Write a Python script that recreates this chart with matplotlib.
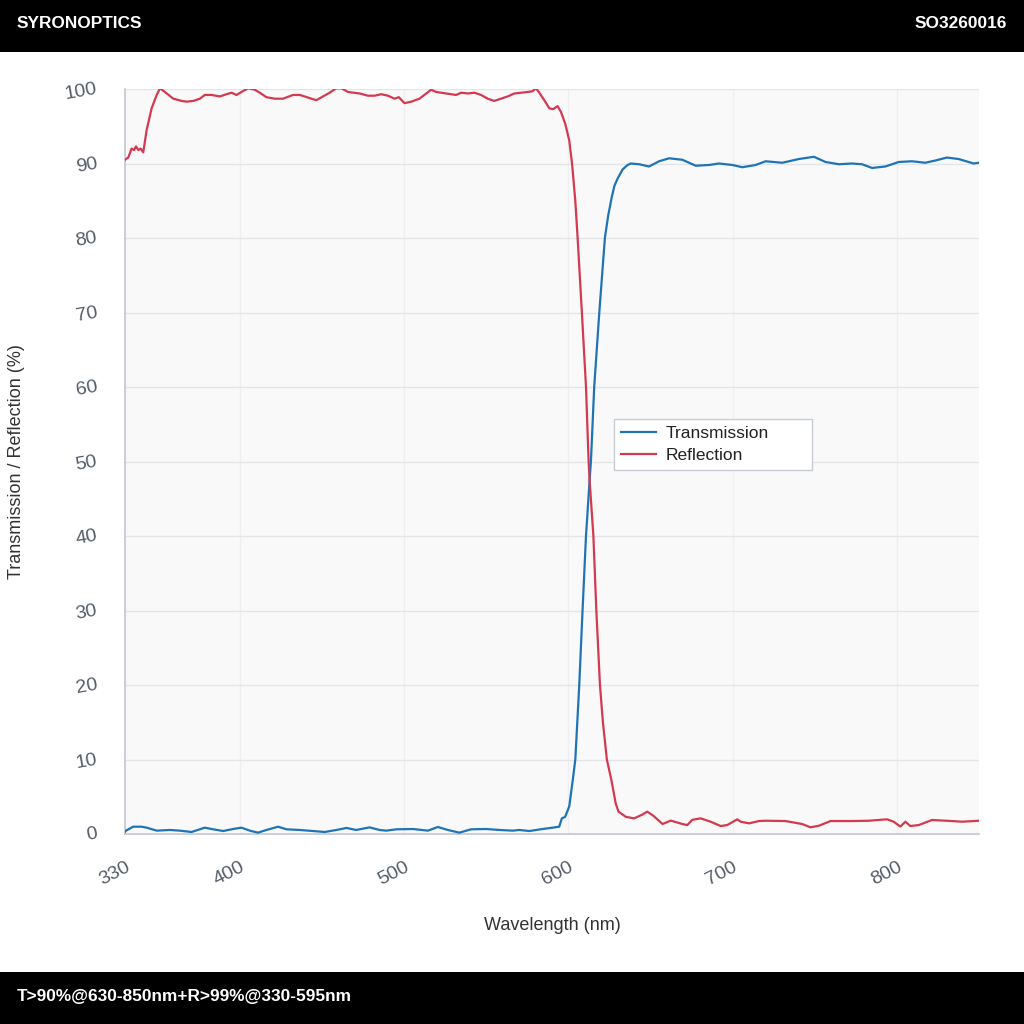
import matplotlib
matplotlib.use("Agg")
import matplotlib.pyplot as plt

# Transmission curve (nm, %)
wl_t = [330.0, 330.6, 335.0, 340.0, 343.2, 349.3, 357.4, 363.4, 370.5, 378.6,
        383.7, 389.8, 395.8, 400.9, 406.0, 411.0, 416.1, 423.2, 428.3, 436.4,
        444.5, 451.6, 458.7, 464.8, 470.8, 478.9, 485.0, 489.1, 495.2, 505.3,
        514.4, 520.5, 526.6, 533.6, 540.7, 549.9, 558.0, 566.1, 570.1, 576.2,
        584.3, 590.4, 594.4, 596.0, 598.0, 600.5, 602.5, 604.2, 606.6, 608.6,
        610.7, 612.9, 613.7, 615.7, 618.8, 622.2, 624.2, 626.4, 628.0, 630.0,
        633.0, 636.0, 638.0, 643.1, 649.1, 655.2, 661.3, 669.4, 677.5, 685.6,
        691.7, 699.8, 705.9, 714.0, 720.1, 730.2, 740.3, 749.5, 756.6, 764.7,
        772.7, 778.8, 784.9, 793.0, 801.1, 809.2, 817.3, 823.4, 830.5, 837.6,
        843.7, 846.7, 850.0]
trans = [0.30, 0.45, 0.98, 0.98, 0.85, 0.45, 0.54, 0.45, 0.27, 0.85,
         0.63, 0.40, 0.67, 0.85, 0.45, 0.18, 0.54, 0.98, 0.63, 0.54,
         0.40, 0.27, 0.54, 0.81, 0.54, 0.89, 0.54, 0.45, 0.63, 0.67,
         0.45, 0.94, 0.54, 0.18, 0.63, 0.67, 0.54, 0.45, 0.54, 0.40,
         0.67, 0.85, 0.98, 2.1, 2.3, 3.7, 7.0, 10.0, 20.0, 30.0,
         40.0, 47.5, 50.0, 60.0, 70.0, 80.0, 83.0, 85.5, 87.0, 88.0,
         89.2, 89.8, 90.0, 89.9, 89.6, 90.3, 90.7, 90.5, 89.7, 89.8,
         90.0, 89.8, 89.5, 89.8, 90.3, 90.1, 90.6, 90.9, 90.2, 89.9,
         90.0, 89.9, 89.4, 89.6, 90.2, 90.3, 90.1, 90.4, 90.8, 90.6,
         90.2, 90.0, 90.1]

# Reflection curve (nm, %)
wl_r = [330.0, 330.6, 332.0, 334.0, 335.5, 336.7, 338.1, 339.5, 341.1, 343.2,
        346.2, 349.3, 351.3, 354.3, 359.4, 364.5, 367.5, 371.6, 375.6, 378.6,
        382.7, 387.8, 391.8, 394.9, 397.9, 400.9, 405.0, 409.0, 412.1, 416.1,
        421.2, 426.2, 432.3, 436.4, 439.4, 443.5, 446.5, 450.6, 454.6, 458.7,
        461.7, 465.8, 472.9, 477.9, 482.0, 486.0, 490.1, 494.1, 496.7, 500.2,
        504.3, 509.3, 513.4, 516.4, 519.5, 525.5, 531.6, 534.7, 538.7, 542.8,
        546.8, 550.9, 554.9, 559.0, 563.0, 567.1, 571.2, 575.2, 578.2, 580.3,
        582.3, 585.3, 588.4, 590.8, 593.4, 595.5, 598.1, 600.5, 602.2, 604.2,
        605.6, 608.2, 610.7, 612.3, 612.9, 615.2, 617.0, 619.2, 621.0, 623.4,
        626.2, 628.8, 630.5, 635.0, 640.0, 645.0, 648.0, 652.0, 657.3, 662.3,
        669.4, 672.4, 675.4, 680.5, 686.6, 692.7, 696.7, 702.8, 704.9, 710.0,
        716.0, 720.0, 732.2, 742.3, 747.4, 752.4, 759.6, 772.7, 782.9, 794.0,
        798.0, 802.1, 805.2, 808.2, 813.3, 821.4, 833.5, 839.6, 850.0]
refl = [90.5, 90.6, 90.8, 92.0, 91.8, 92.3, 91.8, 92.0, 91.5, 94.5,
        97.4, 99.2, 100.1, 99.6, 98.7, 98.4, 98.3, 98.4, 98.7, 99.2,
        99.2, 99.0, 99.3, 99.5, 99.2, 99.6, 100.1, 99.9, 99.5, 98.9,
        98.7, 98.7, 99.2, 99.2, 99.0, 98.7, 98.5, 99.0, 99.5, 100.1,
        100.1, 99.6, 99.4, 99.1, 99.1, 99.3, 99.1, 98.7, 98.9, 98.1,
        98.3, 98.7, 99.4, 99.9, 99.6, 99.4, 99.2, 99.5, 99.4, 99.5,
        99.2, 98.7, 98.4, 98.7, 99.0, 99.4, 99.5, 99.6, 99.7, 100.1,
        99.5, 98.5, 97.4, 97.3, 97.7, 96.9, 95.3, 93.1, 90.0, 85.0,
        80.0, 70.0, 60.0, 50.0, 47.5, 40.0, 30.0, 20.0, 15.0, 10.0,
        7.2, 4.1, 3.0, 2.3, 2.1, 2.6, 3.0, 2.4, 1.34, 1.8,
        1.34, 1.2, 1.9, 2.1, 1.65, 1.07, 1.2, 1.97, 1.65, 1.43,
        1.74, 1.78, 1.74, 1.34, 0.9, 1.1, 1.74, 1.74, 1.78, 1.97,
        1.65, 1.0, 1.65, 1.07, 1.2, 1.88, 1.74, 1.65, 1.78]

x_ticks = [330, 400, 500, 600, 700, 800]
y_ticks = list(range(0, 101, 10))

header_left = "SYRONOPTICS"
header_right = "SO3260016"
footer_text = "T>90%@630-850nm+R>99%@330-595nm"

plt.rcParams['font.family'] = ['Liberation Sans', 'DejaVu Sans']

fig = plt.figure(figsize=(10.24, 10.24), dpi=100)
fig.patch.set_facecolor('white')

# black bands top and bottom
fig.patches.append(plt.Rectangle((0, 1 - 52 / 1024), 1, 52 / 1024, transform=fig.transFigure,
                                 facecolor='black', edgecolor='none', zorder=0))
fig.patches.append(plt.Rectangle((0, 0), 1, 52 / 1024, transform=fig.transFigure,
                                 facecolor='black', edgecolor='none', zorder=0))
fig.text(17 / 1024, 1 - 23 / 1024, header_left, color='white', fontsize=12.4,
         fontweight='bold', ha='left', va='center')
fig.text(1007 / 1024, 1 - 23 / 1024, header_right, color='white', fontsize=12.4,
         fontweight='bold', ha='right', va='center')
fig.text(17 / 1024, 1 - 997 / 1024, footer_text, color='white', fontsize=12.4,
         fontweight='bold', ha='left', va='center')

ax = fig.add_axes([125 / 1024, 1 - 834 / 1024, 854 / 1024, 745 / 1024])
ax.set_facecolor('#f9f9fa')

ax.plot(wl_t, trans, color='#1f74b6', lw=1.6, label='Transmission', zorder=3)
ax.plot(wl_r, refl, color='#d3394f', lw=1.6, label='Reflection', zorder=3)

ax.set_xlim(330, 850)
ax.set_ylim(0, 100)
ax.set_xticks(x_ticks)
ax.set_yticks(y_ticks)

ax.xaxis.grid(True, color='#efeff1', lw=1)
ax.yaxis.grid(True, color='#e3e5e9', lw=1)
ax.set_axisbelow(True)

for side in ['top', 'right']:
    ax.spines[side].set_visible(False)
ax.spines['left'].set_color('#c3c8d0')
ax.spines['bottom'].set_color('#c3c8d0')
ax.spines['left'].set_linewidth(1.2)
ax.spines['bottom'].set_linewidth(1.2)

ax.tick_params(axis='both', length=0, labelsize=14, labelcolor='#555d69')
ax.tick_params(axis='x', pad=18)
ax.tick_params(axis='y', pad=20)
for lab in ax.get_xticklabels():
    lab.set_rotation(27)
    lab.set_ha('right')
    lab.set_va('top')
    lab.set_rotation_mode('anchor')
for lab in ax.get_yticklabels():
    lab.set_rotation(10)
    lab.set_ha('right')
    lab.set_va('center')
    lab.set_rotation_mode('anchor')

ax.set_xlabel('Wavelength (nm)', fontsize=13, color='#333333', labelpad=20)
fig.text(17 / 1024, 1 - 462 / 1024, 'Transmission / Reflection (%)', fontsize=13,
         color='#333333', rotation=90, ha='center', va='center')

leg = ax.legend(loc='upper left', bbox_to_anchor=(614 / 1024, 1 - 470 / 1024, 198 / 1024, 51 / 1024),
                bbox_transform=fig.transFigure, mode='expand', borderaxespad=0,
                fontsize=12.5, frameon=True, fancybox=False, handlelength=2.0,
                handletextpad=0.6, labelspacing=0.4, borderpad=0.4)
leg.get_frame().set_edgecolor('#c8ccd3')
leg.get_frame().set_linewidth(1.0)
leg.get_frame().set_facecolor('white')
leg.get_frame().set_alpha(1)
for t in leg.get_texts():
    t.set_color('#222222')

fig.savefig('out.png', dpi=100)
